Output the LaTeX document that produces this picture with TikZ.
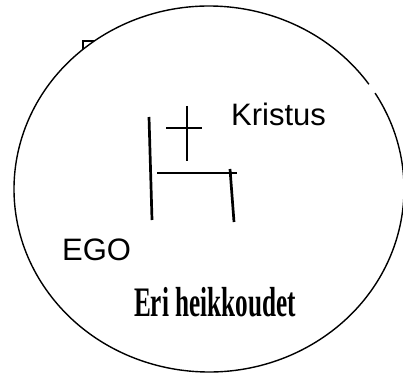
\documentclass[tikz,border=0pt]{standalone}
\usepackage{fontspec}
\setmainfont{Liberation Sans}
\newfontfamily\waf[FakeStretch=0.6,UprightFont={* Bold}]{Liberation Serif}
\begin{document}
\begin{tikzpicture}[x=1pt,y=1pt,
  rim/.style={line width=1.4pt},
  stroke/.style={line width=2.7pt},
  lbl/.style={inner sep=0pt,anchor=base west,font=\fontsize{31}{31}\selectfont}]
\useasboundingbox (0,0) rectangle (403,372);
% small square partly hidden behind the ellipse
\draw[line width=1.2pt] (83,331) rectangle (99,315);
\fill[white] (209,183) ellipse [x radius=195pt, y radius=183pt];
\draw[rim] (209,183) ++(34.9:195pt and 183pt)
  arc[start angle=34.9, end angle=391.6, x radius=195pt, y radius=183pt];
% figure
\coordinate (lt) at (149,255); \coordinate (lb) at (152,152);
\coordinate (ct) at (187,266); \coordinate (cb) at (187,211);
\coordinate (cl) at (166,244); \coordinate (cr) at (202,244);
\coordinate (bl) at (157,199); \coordinate (br) at (237,199);
\coordinate (rt) at (230,203); \coordinate (rb) at (234,150);
\draw[stroke] (lt) -- (lb);
\draw[stroke] (ct) -- (cb);
\draw[stroke] (cl) -- (cr);
\draw[stroke] (bl) -- (br);
\draw[stroke] (rt) -- (rb);
% labels
\node[lbl] (kristus) at (231,246) {Kristus};
\node[lbl] (ego) at (62,112) {EGO};
\node[inner sep=0pt,anchor=base,font=\waf\fontsize{42}{42}\selectfont]
  (weak) at (215,56) {Eri heikkoudet};
\end{tikzpicture}
\end{document}
